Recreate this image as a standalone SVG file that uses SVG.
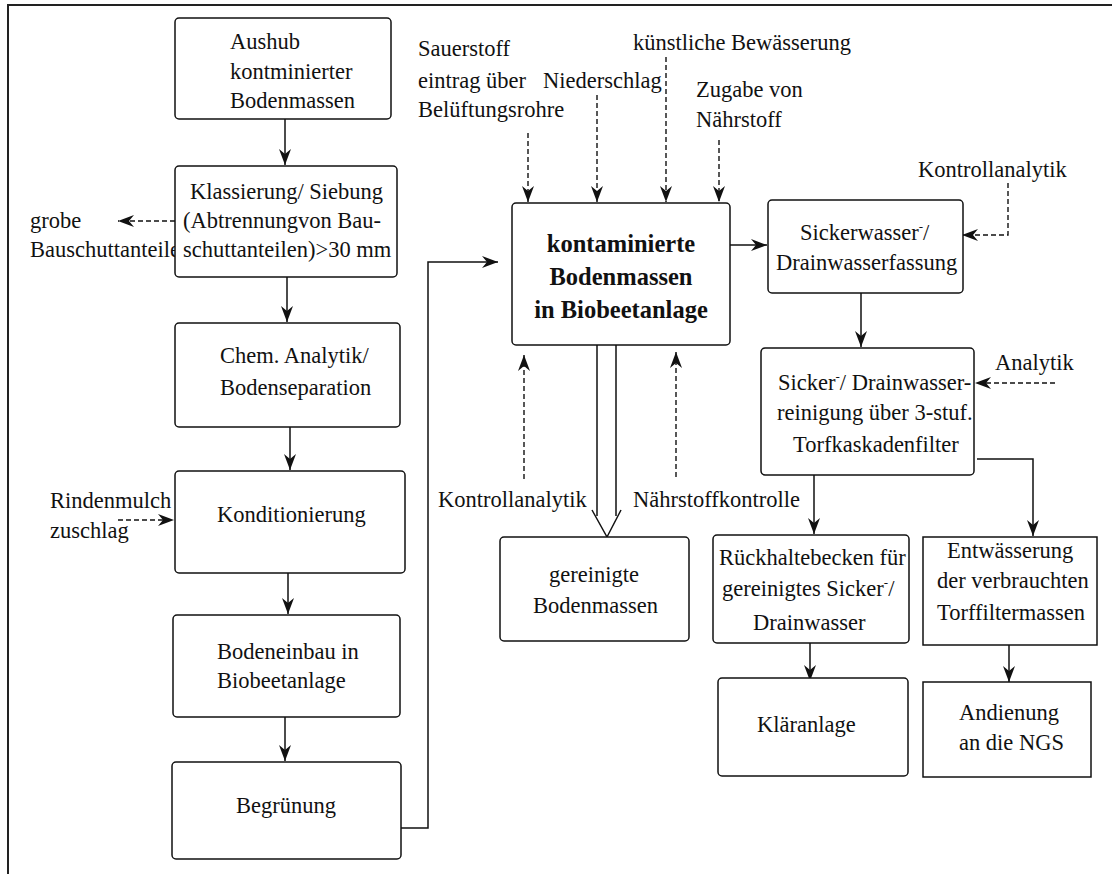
<svg xmlns="http://www.w3.org/2000/svg" width="1112" height="874" viewBox="0 0 1112 874">
  <style>
    text { font-family: 'Liberation Serif', 'Times New Roman', serif; font-size: 22.5px; fill: #111; }
    .bold { font-weight: bold; font-size: 24.5px; }
    .box { fill: #fff; stroke: #111; stroke-width: 1.5; }
    .ln { fill: none; stroke: #111; stroke-width: 1.5; }
    .dash { fill: none; stroke: #111; stroke-width: 1.4; stroke-dasharray: 5 3; }
    .frame { fill: none; stroke: #222; stroke-width: 2; }
  </style>
  <defs>
    <marker id="arr" markerUnits="userSpaceOnUse" markerWidth="18" markerHeight="14" viewBox="-16 -7 18 14" refX="0" refY="0" orient="auto">
      <path d="M0,0 L-16,-6 L-11,0 L-16,6 Z" fill="#111"/>
    </marker>
  </defs>

  <!-- page frame -->
  <path class="frame" d="M8,874 V5 H1112"/>

  <!-- connectors -->
  <g id="connectors">
    <path class="ln" d="M285,119 V165" marker-end="url(#arr)"/>
    <path class="ln" d="M287,277 V322" marker-end="url(#arr)"/>
    <path class="ln" d="M290,427 V470" marker-end="url(#arr)"/>
    <path class="ln" d="M288,573 V614" marker-end="url(#arr)"/>
    <path class="ln" d="M285,717 V761" marker-end="url(#arr)"/>
    <path class="ln" d="M401,828 H428 V262 H498" marker-end="url(#arr)"/>
    <path class="dash" d="M175,221 H118" marker-end="url(#arr)"/>
    <path class="dash" d="M118,520 H174" marker-end="url(#arr)"/>
    <!-- inputs into the bio bed -->
    <path class="dash" d="M528,133 V202" marker-end="url(#arr)"/>
    <path class="dash" d="M597,95 V202" marker-end="url(#arr)"/>
    <path class="dash" d="M666,57 V202" marker-end="url(#arr)"/>
    <path class="dash" d="M719,140 V202" marker-end="url(#arr)"/>
    <path class="dash" d="M524,479 V355" marker-end="url(#arr)"/>
    <path class="dash" d="M676,477 V352" marker-end="url(#arr)"/>
    <!-- hollow output arrow -->
    <path class="ln" d="M597,345 V516 M616,345 V516 M592,510 L607,537 L621,510"/>
    <!-- leachate path -->
    <path class="ln" d="M730,245 H767" marker-end="url(#arr)"/>
    <path class="dash" d="M1008,183 V235 H962" marker-end="url(#arr)"/>
    <path class="ln" d="M861,293 V347" marker-end="url(#arr)"/>
    <path class="dash" d="M1055,383 H975" marker-end="url(#arr)"/>
    <path class="ln" d="M814,475 V534" marker-end="url(#arr)"/>
    <path class="ln" d="M977,459 H1033 V536" marker-end="url(#arr)"/>
    <path class="ln" d="M810,643 V681" marker-end="url(#arr)"/>
    <path class="ln" d="M1009,645 V682" marker-end="url(#arr)"/>
  </g>

  <!-- free labels -->
  <g id="labels">
    <text x="30" y="228">grobe</text>
    <text x="30" y="257">Bauschuttanteile</text>
    <text x="50" y="508">Rindenmulch</text>
    <text x="50" y="538">zuschlag</text>
    <text x="418" y="56">Sauerstoff</text>
    <text x="418" y="88">eintrag über</text>
    <text x="418" y="117">Belüftungsrohre</text>
    <text x="543" y="88">Niederschlag</text>
    <text x="633" y="50">künstliche Bewässerung</text>
    <text x="696" y="97">Zugabe von</text>
    <text x="696" y="127">Nährstoff</text>
    <text x="918" y="177">Kontrollanalytik</text>
    <text x="995" y="370">Analytik</text>
    <text x="438" y="507">Kontrollanalytik</text>
    <text x="633" y="507">Nährstoffkontrolle</text>
  </g>

  <g id="n-aushub">
    <rect class="box" x="175" y="18" width="216" height="101" rx="4"/>
    <text x="230" y="49">Aushub</text>
    <text x="230" y="79">kontminierter</text>
    <text x="230" y="108">Bodenmassen</text>
  </g>
  <g id="n-klassierung">
    <rect class="box" x="175" y="166" width="222" height="111" rx="4"/>
    <text x="190" y="199">Klassierung/ Siebung</text>
    <text x="183" y="228">(Abtrennungvon Bau-</text>
    <text x="183" y="257">schuttanteilen)&gt;30 mm</text>
  </g>
  <g id="n-analytik">
    <rect class="box" x="175" y="323" width="225" height="104" rx="4"/>
    <text x="220" y="363">Chem. Analytik/</text>
    <text x="220" y="395">Bodenseparation</text>
  </g>
  <g id="n-konditionierung">
    <rect class="box" x="175" y="471" width="230" height="102" rx="4"/>
    <text x="217" y="522">Konditionierung</text>
  </g>
  <g id="n-bodeneinbau">
    <rect class="box" x="173" y="615" width="227" height="102" rx="4"/>
    <text x="217" y="659">Bodeneinbau in</text>
    <text x="217" y="688">Biobeetanlage</text>
  </g>
  <g id="n-begruenung">
    <rect class="box" x="172" y="762" width="229" height="97" rx="4"/>
    <text x="236" y="813">Begrünung</text>
  </g>
  <g id="n-biobeet">
    <rect class="box" x="512" y="203" width="218" height="142" rx="4"/>
    <text class="bold" x="621" y="252" text-anchor="middle">kontaminierte</text>
    <text class="bold" x="621" y="285" text-anchor="middle">Bodenmassen</text>
    <text class="bold" x="621" y="318" text-anchor="middle">in Biobeetanlage</text>
  </g>
  <g id="n-gereinigt">
    <rect class="box" x="500" y="537" width="189" height="104" rx="4"/>
    <text x="549" y="582">gereinigte</text>
    <text x="533" y="613">Bodenmassen</text>
  </g>
  <g id="n-fassung">
    <rect class="box" x="768" y="200" width="195" height="93" rx="4"/>
    <text x="800" y="240">Sickerwasser<tspan font-size="13" dy="-9">-</tspan><tspan dy="9">/</tspan></text>
    <text x="776" y="270">Drainwasserfassung</text>
  </g>
  <g id="n-reinigung">
    <rect class="box" x="761" y="348" width="213" height="127" rx="4"/>
    <text x="778" y="390">Sicker<tspan font-size="13" dy="-9">-</tspan><tspan dy="9">/ Drainwasser-</tspan></text>
    <text x="777" y="420">reinigung über 3-stuf.</text>
    <text x="793" y="452">Torfkaskadenfilter</text>
  </g>
  <g id="n-rueckhalte">
    <rect class="box" x="713" y="535" width="196" height="108" rx="4"/>
    <text x="719" y="565">Rückhaltebecken für</text>
    <text x="722" y="596">gereinigtes Sicker<tspan font-size="13" dy="-9">-</tspan><tspan dy="9">/</tspan></text>
    <text x="753" y="630">Drainwasser</text>
  </g>
  <g id="n-entwaesserung">
    <rect class="box" x="923" y="537" width="174" height="108"/>
    <text x="947" y="558">Entwässerung</text>
    <text x="937" y="588">der verbrauchten</text>
    <text x="937" y="620">Torffiltermassen</text>
  </g>
  <g id="n-klaeranlage">
    <rect class="box" x="718" y="678" width="190" height="98" rx="4"/>
    <text x="757" y="732">Kläranlage</text>
  </g>
  <g id="n-ngs">
    <rect class="box" x="923" y="682" width="168" height="95"/>
    <text x="959" y="720">Andienung</text>
    <text x="959" y="750">an die NGS</text>
  </g>
</svg>
